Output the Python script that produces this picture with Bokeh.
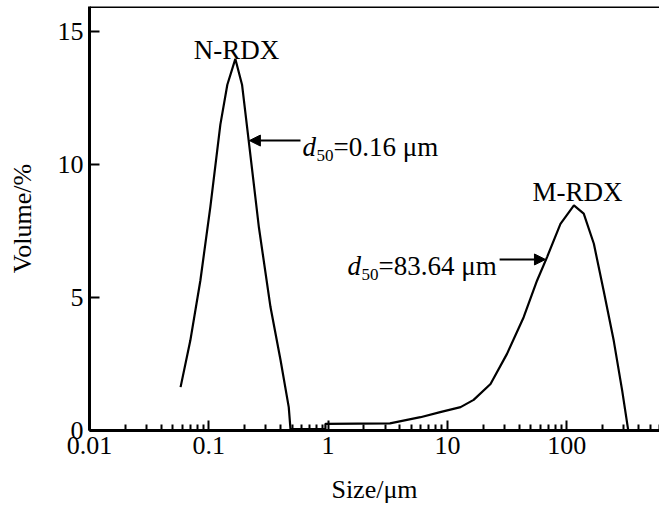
from bokeh.plotting import figure
from bokeh.models import Range1d, FixedTicker, Label, Arrow, NormalHead, Span
from bokeh.embed import file_html
from bokeh.resources import INLINE

# ---- data ----
size_um = [0.058, 0.070, 0.085, 0.103, 0.125, 0.143, 0.167, 0.19, 0.216, 0.263,
           0.329, 0.40, 0.468, 0.484, 0.95, 0.95, 3.3, 5.95, 8.7, 12.9, 16.6,
           23, 31.6, 43.6, 56.5, 68.5, 88.7, 115, 139, 169, 204, 248, 292, 327]
volume_pct = [1.63, 3.38, 5.64, 8.4, 11.5, 13.0, 13.97, 13.0, 10.9, 7.64,
              4.64, 2.63, 0.88, 0.05, 0.06, 0.25, 0.27, 0.5, 0.69, 0.88, 1.15,
              1.75, 2.88, 4.26, 5.64, 6.52, 7.77, 8.46, 8.15, 7.02, 5.26, 3.38, 1.5, 0.05]

x_major = [0.01, 0.1, 1, 10, 100]
x_labels = ["0.01", "0.1", "1", "10", "100"]
x_minor = [m * 10.0 ** e for e in range(-2, 3) for m in range(2, 10)]
y_major = [0, 5, 10, 15]

X_MIN, X_MAX = 0.01, 600
Y_MIN, Y_MAX = 0, 15.94

FONT = "Liberation Serif"

p = figure(width=659, height=510, x_axis_type="log",
           x_range=Range1d(X_MIN, X_MAX), y_range=Range1d(Y_MIN, Y_MAX),
           output_backend="svg", toolbar_location=None,
           min_border_left=89, min_border_right=0, min_border_top=6, min_border_bottom=80)

p.xgrid.visible = False
p.ygrid.visible = False
p.outline_line_color = None
p.background_fill_color = "white"
p.border_fill_color = "white"

p.line(size_um, volume_pct, line_color="black", line_width=2.2)

# axes
p.xaxis.ticker = FixedTicker(ticks=x_major, minor_ticks=x_minor)
p.xaxis.major_label_overrides = {t: l for t, l in zip(x_major, x_labels)}
p.yaxis.ticker = FixedTicker(ticks=y_major)
for ax in (p.xaxis[0], p.yaxis[0]):
    ax.axis_line_width = 3
    ax.axis_line_color = "black"
    ax.major_tick_line_width = 2
    ax.major_tick_in = 10
    ax.major_tick_out = 0
    ax.minor_tick_line_width = 2
    ax.major_label_text_font = FONT
    ax.major_label_text_font_size = "26px"
    ax.major_label_text_color = "black"
    ax.axis_label_text_font = FONT
    ax.axis_label_text_font_size = "26px"
    ax.axis_label_text_font_style = "normal"
    ax.axis_label_text_color = "black"
p.xaxis.minor_tick_in = 6
p.xaxis.minor_tick_out = 0
p.yaxis.minor_tick_line_color = None
p.xaxis.major_label_standoff = 6
p.yaxis.major_label_standoff = 6
p.xaxis.axis_label = "Size/\u03bcm"
p.yaxis.axis_label = "Volume/%"
p.xaxis.axis_label_standoff = 18
p.yaxis.axis_label_standoff = 18

# top frame line
p.add_layout(Span(location=Y_MAX, dimension="width", line_color="black", line_width=3))

# annotations
def lab(x, y, text, size, style="normal", align="left", xo=0, yo=0):
    p.add_layout(Label(x=x, y=y, text=text, text_font=FONT, text_font_size=size,
                       text_font_style=style, text_align=align, text_baseline="alphabetic",
                       x_offset=xo, y_offset=yo, text_color="black"))

lab(0.1706, 14.3, "N-RDX", "27px", align="center")
lab(123, 8.95, "M-RDX", "27px", align="center")

lab(0.61, 10.65, "d", "27px", style="italic")
lab(0.61, 10.65, "50", "17px", xo=14, yo=-8)
lab(0.61, 10.65, "=0.16 \u03bcm", "27px", xo=31)

lab(1.455, 6.17, "d", "27px", style="italic")
lab(1.455, 6.17, "50", "17px", xo=14, yo=-8)
lab(1.455, 6.17, "=83.64 \u03bcm", "27px", xo=31)

p.add_layout(Arrow(x_start=0.587, y_start=10.9, x_end=0.219, y_end=10.9,
                   line_width=2, line_color="black",
                   end=NormalHead(size=11, fill_color="black", line_color="black")))
p.add_layout(Arrow(x_start=27.4, y_start=6.43, x_end=66.4, y_end=6.43,
                   line_width=2, line_color="black",
                   end=NormalHead(size=11, fill_color="black", line_color="black")))

open("out.html", "w").write(file_html(p, INLINE))
